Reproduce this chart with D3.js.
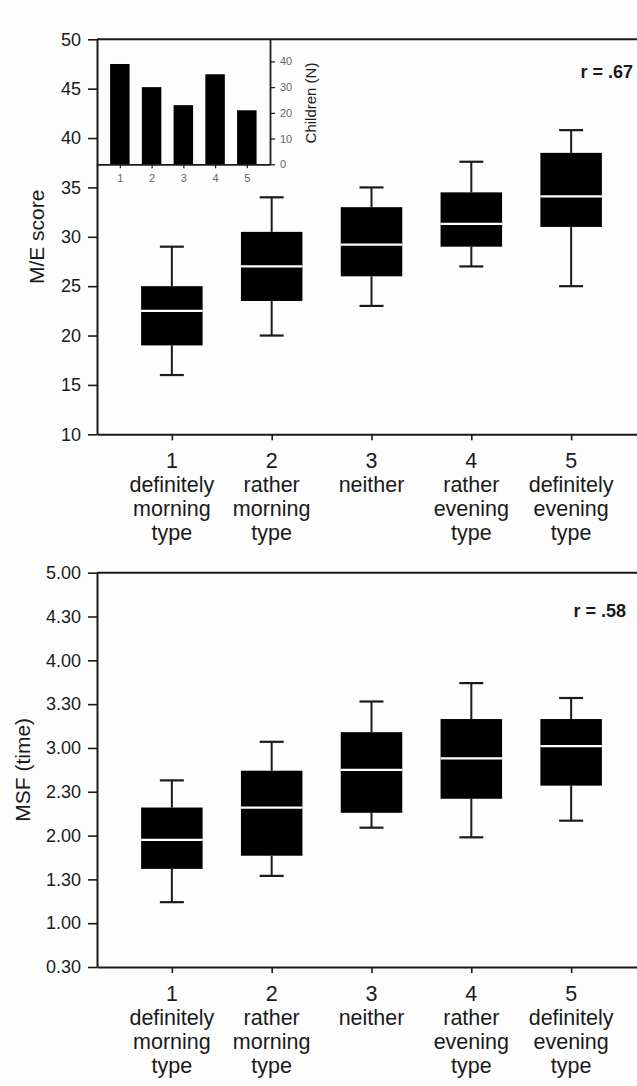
<!DOCTYPE html>
<html>
<head>
<meta charset="utf-8">
<script src="https://cdn.jsdelivr.net/npm/d3@7"></script>
<style>
  html, body { margin: 0; padding: 0; background: #fdfdfd; }
  svg { display: block; }
  text { font-family: "Liberation Sans", Arial, Helvetica, sans-serif; }
</style>
</head>
<body>
<svg id="chart" width="637" height="1086"></svg>
<script>
// ---------- DATA ----------
const categories = [1, 2, 3, 4, 5];
const categoryLabels = [
  ["1", "definitely", "morning", "type"],
  ["2", "rather", "morning", "type"],
  ["3", "neither"],
  ["4", "rather", "evening", "type"],
  ["5", "definitely", "evening", "type"]
];

// M/E score box plots
const meLow    = [16, 20, 23, 27, 25];
const meQ1     = [19, 23.5, 26, 29, 31];
const meMedian = [22.5, 27, 29.2, 31.3, 34.1];
const meQ3     = [25, 30.5, 33, 34.5, 38.5];
const meHigh   = [29, 34, 35, 37.6, 40.8];
const meTicks  = [10, 15, 20, 25, 30, 35, 40, 45, 50];
const meR = "r = .67";

// MSF (decimal hours) box plots
const msfLow    = [1.24, 1.54, 2.09, 1.98, 2.17];
const msfQ1     = [1.62, 1.77, 2.26, 2.42, 2.57];
const msfMedian = [1.95, 2.32, 2.75, 2.88, 3.02];
const msfQ3     = [2.32, 2.74, 3.18, 3.33, 3.33];
const msfHigh   = [2.63, 3.07, 3.53, 3.74, 3.57];
const msfTickValues = [0.5, 1, 1.5, 2, 2.5, 3, 3.5, 4, 4.5, 5];
const msfTickLabels = ["0.30", "1.00", "1.30", "2.00", "2.30", "3.00", "3.30", "4.00", "4.30", "5.00"];
const msfR = "r = .58";

// Inset: number of children per category
const childrenN = [39, 30, 23, 35, 21];
const insetTicks = [0, 10, 20, 30, 40];

// ---------- DRAW ----------
const svg = d3.select("#chart");
const ink = "#1a1a1a";
svg.append("rect").attr("width", 637).attr("height", 1086).attr("fill", "#fdfdfd");

const x = d3.scaleLinear().domain([0.25, 5.75]).range([97, 646]);
const boxW = 61.5, capW = 24;

function styleAxis(g, fs) {
  g.selectAll(".domain").attr("stroke", ink).attr("stroke-width", 2);
  g.selectAll(".tick line").attr("stroke", ink).attr("stroke-width", 1.6);
  g.selectAll(".tick text").attr("fill", ink).style("font-size", fs + "px");
}

function panel(y, top, bottom, ticks, tickFmt, low, q1, med, q3, high, rText, rX, rY, title, titleX) {
  // y axis
  const gy = svg.append("g").attr("transform", "translate(97,0)")
    .call(d3.axisLeft(y).tickValues(ticks).tickFormat(tickFmt).tickSize(9).tickPadding(7).tickSizeOuter(0));
  styleAxis(gy, 18);
  // top border
  svg.append("line").attr("x1", 97).attr("x2", 646).attr("y1", top).attr("y2", top)
    .attr("stroke", ink).attr("stroke-width", 2);
  // x axis
  const gx = svg.append("g").attr("transform", `translate(0,${bottom})`)
    .call(d3.axisBottom(x).tickValues(categories).tickFormat("").tickSize(6).tickSizeOuter(0));
  styleAxis(gx, 20);
  // category labels
  categories.forEach((c, i) => {
    const t = svg.append("text").attr("text-anchor", "middle").attr("fill", ink)
      .style("font-size", "21.5px");
    categoryLabels[i].forEach((line, j) => {
      t.append("tspan").attr("x", x(c)).attr("y", bottom + 34 + j * 24).text(line);
    });
  });
  // boxes
  const g = svg.append("g");
  categories.forEach((c, i) => {
    const cx = x(c);
    g.append("line").attr("x1", cx).attr("x2", cx).attr("y1", y(high[i])).attr("y2", y(q3[i]))
      .attr("stroke", ink).attr("stroke-width", 2);
    g.append("line").attr("x1", cx).attr("x2", cx).attr("y1", y(q1[i])).attr("y2", y(low[i]))
      .attr("stroke", ink).attr("stroke-width", 2);
    g.append("line").attr("x1", cx - capW / 2).attr("x2", cx + capW / 2).attr("y1", y(high[i])).attr("y2", y(high[i]))
      .attr("stroke", ink).attr("stroke-width", 2.2);
    g.append("line").attr("x1", cx - capW / 2).attr("x2", cx + capW / 2).attr("y1", y(low[i])).attr("y2", y(low[i]))
      .attr("stroke", ink).attr("stroke-width", 2.2);
    g.append("rect").attr("x", cx - boxW / 2).attr("width", boxW)
      .attr("y", y(q3[i])).attr("height", y(q1[i]) - y(q3[i])).attr("fill", "#000");
    g.append("line").attr("x1", cx - boxW / 2).attr("x2", cx + boxW / 2).attr("y1", y(med[i])).attr("y2", y(med[i]))
      .attr("stroke", "#fff").attr("stroke-width", 2.2);
  });
  // r label
  svg.append("text").attr("x", rX).attr("y", rY).attr("text-anchor", "end")
    .attr("fill", ink).style("font-size", "18px").style("font-weight", "bold").text(rText);
  // y title
  svg.append("text").attr("transform", `translate(${titleX},${(top + bottom) / 2}) rotate(-90)`)
    .attr("text-anchor", "middle").attr("fill", ink).style("font-size", "21px").text(title);
}

// Top panel
const yME = d3.scaleLinear().domain([10, 50]).range([434.3, 39.3]);
panel(yME, 39.3, 434.3, meTicks, d3.format("d"), meLow, meQ1, meMedian, meQ3, meHigh,
      meR, 633, 78.3, "M/E score", 43.5);

// Bottom panel
const yMSF = d3.scaleLinear().domain([0.5, 5]).range([967, 572.7]);
panel(yMSF, 572.7, 967, msfTickValues, (d, i) => msfTickLabels[i], msfLow, msfQ1, msfMedian, msfQ3, msfHigh,
      msfR, 626, 616.5, "MSF (time)", 29.5);

// Inset bar chart
const ix = d3.scaleLinear().domain([0.28, 5.73]).range([97, 270]);
const iy = d3.scaleLinear().domain([0, 48.6]).range([164.3, 39.3]);
const barW = 19.5;
svg.append("g").selectAll("rect").data(childrenN).join("rect")
  .attr("x", (d, i) => ix(categories[i]) - barW / 2).attr("width", barW)
  .attr("y", d => iy(d)).attr("height", d => iy(0) - iy(d)).attr("fill", "#000");
const gix = svg.append("g").attr("transform", "translate(0,164.3)")
  .call(d3.axisBottom(ix).tickValues(categories).tickSize(4).tickPadding(6).tickSizeOuter(0).tickFormat(d3.format("d")));
gix.selectAll(".domain").attr("stroke", ink).attr("stroke-width", 1.8);
gix.selectAll(".tick line").attr("stroke", ink).attr("stroke-width", 1.2);
gix.selectAll(".tick text").attr("fill", "#666").style("font-size", "11px");
const giy = svg.append("g").attr("transform", "translate(270,0)")
  .call(d3.axisRight(iy).tickValues(insetTicks).tickSize(5).tickPadding(5).tickSizeOuter(0));
giy.selectAll(".domain").attr("stroke", ink).attr("stroke-width", 1.8);
giy.selectAll(".tick line").attr("stroke", ink).attr("stroke-width", 1.2);
giy.selectAll(".tick text").attr("fill", "#666").style("font-size", "11px");
svg.append("text").attr("transform", "translate(316,103) rotate(-90)")
  .attr("text-anchor", "middle").attr("fill", ink).style("font-size", "15px").text("Children (N)");
</script>
</body>
</html>
